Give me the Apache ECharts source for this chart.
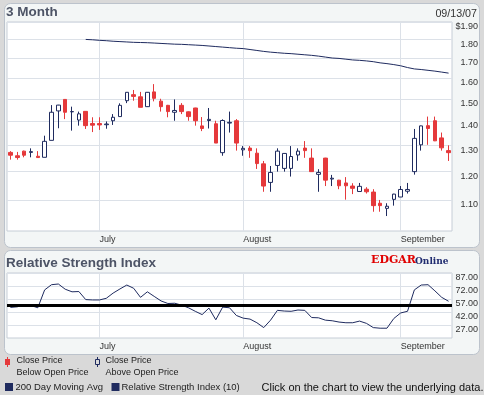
<!DOCTYPE html>
<html><head><meta charset="utf-8">
<script src="https://cdn.jsdelivr.net/npm/echarts@6/dist/echarts.min.js"></script>
<style>html,body{margin:0;padding:0;background:#d9d9d9;}#c{width:484px;height:395px;}</style>
</head><body><div id="c"></div>
<script>
// ---- data ----
const dates = [
 '2007-06-13','2007-06-14','2007-06-15','2007-06-18','2007-06-19','2007-06-20','2007-06-21','2007-06-22','2007-06-25','2007-06-26','2007-06-27','2007-06-28','2007-06-29',
 '2007-07-02','2007-07-03','2007-07-05','2007-07-06','2007-07-09','2007-07-10','2007-07-11','2007-07-12','2007-07-13','2007-07-16','2007-07-17','2007-07-18','2007-07-19','2007-07-20','2007-07-23','2007-07-24','2007-07-25','2007-07-26','2007-07-27','2007-07-30','2007-07-31',
 '2007-08-01','2007-08-02','2007-08-03','2007-08-06','2007-08-07','2007-08-08','2007-08-09','2007-08-10','2007-08-13','2007-08-14','2007-08-15','2007-08-16','2007-08-17','2007-08-20','2007-08-21','2007-08-22','2007-08-23','2007-08-24','2007-08-27','2007-08-28','2007-08-29','2007-08-30','2007-08-31',
 '2007-09-04','2007-09-05','2007-09-06','2007-09-07','2007-09-10','2007-09-11','2007-09-12','2007-09-13'
];
const openP = [1.273,1.260,1.278,1.273,1.258,1.254,1.321,1.446,1.498,1.442,1.406,1.444,1.391,
 1.391,1.386,1.403,1.421,1.492,1.520,1.510,1.465,1.533,1.490,1.471,1.440,1.471,1.442,1.459,1.381,1.404,1.390,1.272,1.393,1.403,
 1.283,1.290,1.270,1.229,1.161,1.223,1.212,1.212,1.263,1.290,1.251,1.190,1.251,1.173,1.169,1.159,1.148,1.129,1.137,1.127,1.089,1.072,1.102,
 1.110,1.130,1.200,1.303,1.382,1.403,1.331,1.280];
const highP = [1.278,1.275,1.280,1.289,1.278,1.340,1.472,1.473,1.498,1.465,1.443,1.444,1.418,
 1.418,1.400,1.432,1.480,1.532,1.542,1.533,1.532,1.570,1.501,1.473,1.498,1.481,1.444,1.460,1.419,1.459,1.403,1.409,1.443,1.410,
 1.298,1.298,1.289,1.240,1.221,1.289,1.270,1.298,1.289,1.318,1.289,1.209,1.252,1.188,1.170,1.180,1.158,1.159,1.144,1.137,1.100,1.089,1.121,
 1.148,1.159,1.368,1.382,1.421,1.421,1.353,1.301];
const lowP = [1.245,1.245,1.254,1.254,1.253,1.254,1.321,1.371,1.410,1.361,1.382,1.368,1.355,
 1.364,1.369,1.385,1.421,1.481,1.492,1.462,1.464,1.489,1.443,1.418,1.403,1.432,1.403,1.382,1.359,1.370,1.310,1.260,1.353,1.280,
 1.260,1.252,1.210,1.128,1.128,1.200,1.200,1.182,1.241,1.252,1.200,1.128,1.148,1.148,1.137,1.101,1.120,1.129,1.122,1.061,1.061,1.047,1.081,
 1.110,1.122,1.189,1.280,1.303,1.318,1.280,1.240];
const closeP = [1.262,1.253,1.262,1.276,1.253,1.317,1.440,1.472,1.440,1.443,1.433,1.382,1.384,
 1.385,1.389,1.418,1.471,1.531,1.512,1.462,1.531,1.503,1.465,1.443,1.448,1.443,1.421,1.403,1.370,1.409,1.310,1.404,1.396,1.310,
 1.289,1.280,1.230,1.148,1.197,1.278,1.269,1.257,1.278,1.280,1.200,1.197,1.169,1.176,1.149,1.149,1.140,1.147,1.128,1.081,1.081,1.079,1.120,
 1.136,1.136,1.329,1.381,1.370,1.319,1.291,1.272];
const ma200 = ['-','-','-','-','-','-','-','-','-','-','-',1.801,1.799,
 1.796,1.794,1.791,1.789,1.787,1.785,1.784,1.783,1.781,1.779,1.777,1.775,1.774,1.772,1.770,1.768,1.765,1.762,1.759,1.756,1.753,
 1.751,1.746,1.741,1.736,1.732,1.729,1.726,1.724,1.721,1.718,1.715,1.711,1.706,1.701,1.699,1.695,1.691,1.689,1.686,1.682,1.676,1.672,1.667,
 1.661,1.652,1.645,1.642,1.638,1.634,1.629,1.624];
const rsi10 = [47.3,48.0,50.3,49.5,46.9,67.5,73.5,74.3,68.3,65.3,65.6,56.3,55.9,
 55.9,57.8,63.8,68.6,73.1,69.4,58.9,65.3,60.0,54.8,51.8,52.1,49.9,46.9,42.8,39.0,46.5,33.0,47.6,46.9,38.0,
 34.9,33.8,29.6,24.0,32.6,43.9,43.1,42.8,44.3,43.9,35.6,35.3,32.6,31.9,30.4,29.6,29.6,31.5,28.9,24.0,23.3,23.3,34.5,
 40.9,42.8,67.5,73.1,73.5,66.4,58.9,54.4];
const rsiRefLevel = 50;
const priceTicks = [1.10,1.20,1.30,1.40,1.50,1.60,1.70,1.80,1.90];
const rsiTicks = [27,42,57,72,87];
const monthLabels = {'2007-07-02':'July','2007-08-01':'August','2007-09-04':'September'};

// ---- style ----
const FONT = '"Liberation Sans", Arial, sans-serif';
const NAVY = '#1f2b5f';
const RED = '#e5393b';
const GRIDC = '#dce1e8';
const BORDER = '#c6cdd6';
const TXT = '#333333';

const candleData = dates.map((d, i) => [openP[i], closeP[i], lowP[i], highP[i]]);

function xAxisFor(gi) {
  return {
    type: 'category', gridIndex: gi, data: dates, boundaryGap: true,
    axisLine: { show: false }, axisTick: { show: false },
    splitLine: { show: true, alignWithLabel: true, interval: (i, v) => v in monthLabels, lineStyle: { color: GRIDC, width: 1 } },
    axisLabel: { interval: (i, v) => v in monthLabels, formatter: v => monthLabels[v] || '',
      align: 'left', verticalAlign: 'top', margin: 4, fontSize: 9, color: TXT, fontFamily: FONT }
  };
}

const chart = echarts.init(document.getElementById('c'));
chart.setOption({
  animation: false,
  backgroundColor: '#d9d9d9',
  graphic: [
    { type: 'rect', z: -10, shape: { x: 4.5, y: 3.5, width: 475, height: 244, r: 6 }, style: { fill: '#f3f6f6', stroke: '#bcc3cc', lineWidth: 1 } },
    { type: 'rect', z: -10, shape: { x: 4.5, y: 250.5, width: 475, height: 104, r: 6 }, style: { fill: '#f3f6f6', stroke: '#bcc3cc', lineWidth: 1 } },
    { type: 'text', z: 10, left: 6, top: 5, style: { text: '3 Month', font: 'bold 13.5px "Liberation Sans", Arial, sans-serif', fill: '#4d5466' } },
    { type: 'text', z: 10, right: 7, top: 9, style: { text: '09/13/07', font: '10.7px "Liberation Sans", Arial, sans-serif', fill: TXT } },
    { type: 'text', z: 10, left: 6, top: 256, style: { text: 'Relative Strength Index', font: 'bold 13.5px "Liberation Sans", Arial, sans-serif', fill: '#4d5466' } },
    { type: 'text', z: 10, left: 371, top: 255, style: { text: 'EDGAR', font: 'bold 11px "DejaVu Serif", serif', fill: '#e00000' } },
    { type: 'text', z: 10, left: 415, top: 257.5, style: { text: 'Online', font: 'bold 9px "DejaVu Serif", serif', fill: '#1f2b6f' } },
    // legend icons
    { type: 'line', z: 10, shape: { x1: 7.5, y1: 357, x2: 7.5, y2: 367 }, style: { stroke: RED, lineWidth: 1 } },
    { type: 'rect', z: 10, shape: { x: 5, y: 359, width: 5, height: 6 }, style: { fill: RED } },
    { type: 'line', z: 10, shape: { x1: 97.5, y1: 357, x2: 97.5, y2: 367 }, style: { stroke: NAVY, lineWidth: 1 } },
    { type: 'rect', z: 11, shape: { x: 95.5, y: 359.5, width: 4, height: 5 }, style: { fill: '#d9d9d9', stroke: NAVY, lineWidth: 1 } },
    { type: 'text', z: 10, left: 16.5, top: 356, style: { text: 'Close Price', font: '9px "Liberation Sans", Arial, sans-serif', fill: '#222' } },
    { type: 'text', z: 10, left: 16.5, top: 368, style: { text: 'Below Open Price', font: '9px "Liberation Sans", Arial, sans-serif', fill: '#222' } },
    { type: 'text', z: 10, left: 105.5, top: 356, style: { text: 'Close Price', font: '9px "Liberation Sans", Arial, sans-serif', fill: '#222' } },
    { type: 'text', z: 10, left: 105.5, top: 368, style: { text: 'Above Open Price', font: '9px "Liberation Sans", Arial, sans-serif', fill: '#222' } },
    { type: 'rect', z: 10, shape: { x: 5, y: 383, width: 8, height: 8 }, style: { fill: NAVY } },
    { type: 'rect', z: 10, shape: { x: 111.5, y: 383, width: 8, height: 8 }, style: { fill: NAVY } },
    { type: 'text', z: 10, left: 15.5, top: 382, style: { text: '200 Day Moving Avg', font: '9.5px "Liberation Sans", Arial, sans-serif', fill: '#222' } },
    { type: 'text', z: 10, left: 121.5, top: 382, style: { text: 'Relative Strength Index (10)', font: '9.5px "Liberation Sans", Arial, sans-serif', fill: '#222' } },
    { type: 'text', z: 10, left: 261.5, top: 382.5, style: { text: 'Click on the chart to view the underlying data.', font: '11px "Liberation Sans", Arial, sans-serif', fill: '#111' } }
  ],
  grid: [
    { left: 7, top: 22, width: 445, height: 209, show: true, backgroundColor: '#ffffff', borderColor: BORDER, borderWidth: 1 },
    { left: 7, top: 273, width: 445, height: 65, show: true, backgroundColor: '#ffffff', borderColor: BORDER, borderWidth: 1 }
  ],
  xAxis: [xAxisFor(0), xAxisFor(1)],
  yAxis: [
    { type: 'log', logBase: 10, gridIndex: 0, min: 1, max: 1.9, position: 'right',
      axisLine: { show: false }, axisTick: { show: false, customValues: priceTicks },
      splitLine: { show: true, lineStyle: { color: GRIDC, width: 1 } },
      axisLabel: { customValues: priceTicks, formatter: v => (v > 1.89 ? '$' : '') + Number(v).toFixed(2),
        align: 'right', verticalAlign: 'top', margin: 26, fontSize: 9, color: TXT, fontFamily: FONT } },
    { type: 'value', gridIndex: 1, min: 12, max: 87, position: 'right',
      axisLine: { show: false }, axisTick: { show: false, customValues: rsiTicks },
      splitLine: { show: true, lineStyle: { color: GRIDC, width: 1 } },
      axisLabel: { customValues: rsiTicks, formatter: v => Number(v).toFixed(2),
        align: 'right', verticalAlign: 'top', margin: 26, fontSize: 9, color: TXT, fontFamily: FONT } }
  ],
  series: [
    { type: 'candlestick', name: 'Close Price', xAxisIndex: 0, yAxisIndex: 0, data: candleData, barWidth: 4,
      itemStyle: { color: '#ffffff', color0: RED, borderColor: NAVY, borderColor0: RED, borderWidth: 1 }, z: 3 },
    { type: 'line', name: '200 Day Moving Avg', xAxisIndex: 0, yAxisIndex: 0, data: ma200, symbol: 'none',
      lineStyle: { color: NAVY, width: 1 }, z: 4 },
    { type: 'line', name: 'Relative Strength Index (10)', xAxisIndex: 1, yAxisIndex: 1, data: rsi10, symbol: 'none',
      lineStyle: { color: NAVY, width: 1 }, z: 3,
      markLine: { silent: true, symbol: 'none', label: { show: false }, lineStyle: { color: '#000', width: 3, type: 'solid' },
        data: [{ yAxis: rsiRefLevel }] } }
  ]
});
</script></body></html>
